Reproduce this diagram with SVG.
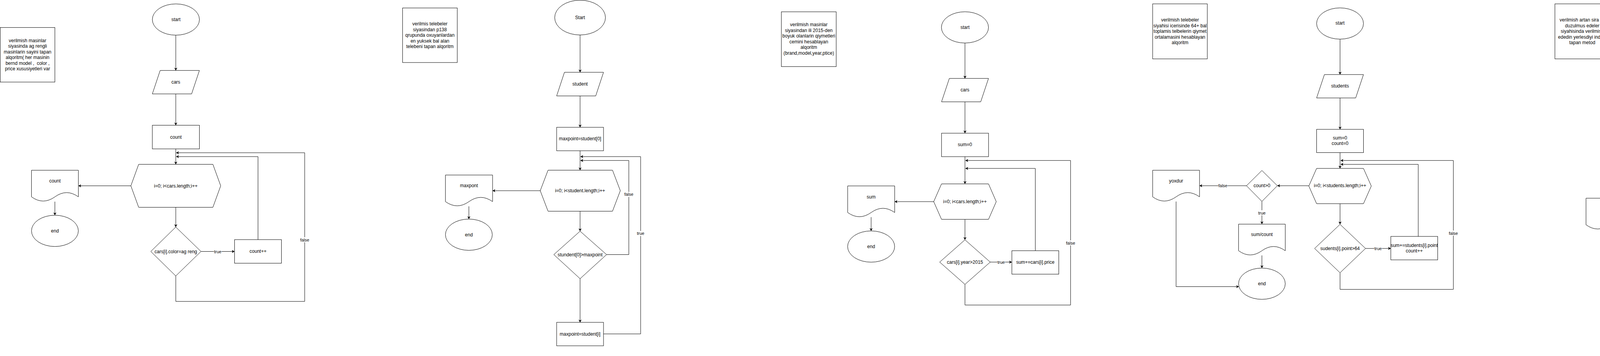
<svg xmlns="http://www.w3.org/2000/svg" width="5122" height="911" viewBox="0 0 5122 911">
<defs>
<marker id="a" markerWidth="8" markerHeight="8" refX="7" refY="4" orient="auto" markerUnits="userSpaceOnUse"><path d="M0,0 L7,4 L0,8 L2,4 Z" fill="#000"/></marker>
<style>
.s{fill:#fff;stroke:#000;stroke-width:1}
.t{font-family:"Liberation Sans",Arial,Helvetica,sans-serif;font-size:12px;fill:#000;text-anchor:middle}
.l{font-family:"Liberation Sans",Arial,Helvetica,sans-serif;font-size:11px;fill:#000;text-anchor:middle}
.e{fill:none;stroke:#000;stroke-width:1;marker-end:url(#a)}
.p{fill:none;stroke:#000;stroke-width:1}
.b{fill:#fff}
</style>
</defs>
<rect width="5122" height="911" fill="#fff"/>

<g id="connectors">
<!-- chart 1 -->
<path class="e" d="M450,90 V180.3"/>
<path class="e" d="M450,240.3 V320.5"/>
<path class="e" d="M450,381 V420.5"/>
<path class="e" d="M335,475.5 H200.7"/>
<path class="e" d="M140.5,516 V550.8"/>
<path class="e" d="M450,530.5 V581"/>
<path class="e" d="M514.5,643.5 H600.5"/>
<path class="e" d="M660.5,613.2 V400.8 H451"/>
<path class="e" d="M450,706.2 V771.3 H780 V390.9 H451"/>
<rect class="b" x="547.5" y="637" width="20" height="13"/><text class="l" x="557.5" y="647.5">true</text>
<rect class="b" x="768" y="607" width="24" height="13"/><text class="l" x="780" y="617.7">false</text>
<!-- chart 2 -->
<path class="e" d="M1485,89.5 V185"/>
<path class="e" d="M1485,245.5 V325.8"/>
<path class="e" d="M1485,385.8 V435.5"/>
<path class="e" d="M1383,488 H1261"/>
<path class="e" d="M1200.3,528 V560.6"/>
<path class="e" d="M1485,540.5 V591.6"/>
<path class="e" d="M1552.8,651.5 H1609.8 V410.7 H1486"/>
<path class="e" d="M1485,713.2 V824.9"/>
<path class="e" d="M1545,854.5 H1640 V400.8 H1486"/>
<rect class="b" x="1597.8" y="491" width="24" height="13"/><text class="l" x="1609.8" y="501.4">false</text>
<rect class="b" x="1630" y="591" width="20" height="13"/><text class="l" x="1640" y="601.4">true</text>
<!-- chart 3 -->
<path class="e" d="M2470.3,110 V200.7"/>
<path class="e" d="M2470.3,260.6 V340.9"/>
<path class="e" d="M2470.3,400.9 V470.6"/>
<path class="e" d="M2390.3,516 H2290.4"/>
<path class="e" d="M2230.1,555.6 V590.9"/>
<path class="e" d="M2470.3,561.3 V613.7"/>
<path class="e" d="M2535,670.7 H2590.4"/>
<path class="e" d="M2650.4,641.6 V431 H2471.5"/>
<path class="e" d="M2470.3,727.7 V780.6 H2740.7 V410.7 H2471.5"/>
<rect class="b" x="2553" y="664" width="20" height="13"/><text class="l" x="2563" y="674.7">true</text>
<rect class="b" x="2728.7" y="615" width="24" height="13"/><text class="l" x="2740.7" y="625.8">false</text>
<!-- chart 4 -->
<path class="e" d="M3430.5,100.2 V190.8"/>
<path class="e" d="M3430.5,250.7 V331"/>
<path class="e" d="M3430.5,390.5 V431"/>
<path class="e" d="M3350.6,475.3 H3270"/>
<path class="e" d="M3191,475.3 H3070.8"/>
<path class="e" d="M3230.5,515.4 V573.6"/>
<path class="e" d="M3230.5,653.6 V686"/>
<path class="e" d="M3010.8,515.7 V733.5 H3171.6"/>
<path class="e" d="M3430.5,521.2 V574.1"/>
<path class="e" d="M3495.7,635.8 H3560.5"/>
<path class="e" d="M3630.7,605 V420.6 H3432"/>
<path class="e" d="M3430.5,698 V740.5 H3720.6 V410.7 H3432"/>
<rect class="b" x="3118.6" y="469" width="24" height="13"/><text class="l" x="3130.6" y="479.3">false</text>
<rect class="b" x="3220.5" y="538" width="20" height="13"/><text class="l" x="3230.5" y="548.5">true</text>
<rect class="b" x="3518" y="629" width="20" height="13"/><text class="l" x="3528" y="639.8">true</text>
<rect class="b" x="3708.6" y="590" width="24" height="13"/><text class="l" x="3720.6" y="600.8">false</text>
<!-- chart 5 -->
<path class="e" d="M4330.2,130.5 V221"/>
<path class="e" d="M4330.2,281 V335"/>
<path class="e" d="M4330.2,435.3 V490.4"/>
<path class="e" d="M4264.7,546.8 H4180.3"/>
<path class="e" d="M4330.2,605 V702.7"/>
<path class="e" d="M4330.2,782.9 V815.1"/>
<path class="e" d="M4120.3,587.4 V855.1 H4270.2"/>
<!-- chart 6 -->
<path class="e" d="M4970.3,146.2 V235.6"/>
<path class="e" d="M4970.3,296 V350.7"/>
<path class="e" d="M4880.7,401.7 H4840.7"/>
<path class="e" d="M4970.3,451 V505.3"/>
<path class="e" d="M5034.5,562.7 H5110 V310.5 H4971.7"/>
<path class="e" d="M4970.3,620.1 V718.4"/>
<path class="e" d="M4970.3,798.6 V831.1"/>
<path class="e" d="M4780.5,441.5 V870.8 H4910.3"/>
<rect class="b" x="5098" y="397" width="24" height="13"/><text class="l" x="5110" y="407.7">false</text>
<rect class="b" x="4960.3" y="663" width="20" height="13"/><text class="l" x="4970.3" y="673.3">true</text>
</g>

<!-- ===== chart 1 ===== -->
<g id="note1"><rect class="s" x="0.5" y="70.4" width="140" height="139.6"/>
<text class="t" x="70.5" y="107.5">verilmish masinlar</text>
<text class="t" x="70.5" y="122">siyasinda ag rengli</text>
<text class="t" x="70.5" y="136.5">masinlarin sayini tapan</text>
<text class="t" x="70.5" y="151">alqoritm( her masinin</text>
<text class="t" x="70.5" y="165.5" xml:space="preserve">bernd model ,  color ,</text>
<text class="t" x="70.5" y="180">price xususiyetleri var</text></g>
<g id="start1"><ellipse class="s" cx="450.3" cy="50" rx="60.3" ry="40"/><text class="t" x="450.3" y="54">start</text></g>
<g id="input1"><polygon class="s" points="390,240.3 410,180.3 510.5,180.3 490.5,240.3"/><text class="t" x="450" y="214">cars</text></g>
<g id="init1"><rect class="s" x="390" y="320.5" width="120.5" height="60.5"/><text class="t" x="450.3" y="354.7">count</text></g>
<g id="loop1"><polygon class="s" points="355,420.5 545,420.5 565,475.5 545,530.5 355,530.5 335,475.5"/><text class="t" x="450" y="479.5">i=0; i&lt;cars.length;i++</text></g>
<g id="out1"><path class="s" d="M80.6,435.7 H200.7 V503.7 Q170.7,482.1 140.6,503.7 Q110.6,525.3 80.6,503.7 Z"/><text class="t" x="140.6" y="467">count</text></g>
<g id="end1"><ellipse class="s" cx="140.6" cy="590.8" rx="60" ry="40"/><text class="t" x="140.6" y="594.8">end</text></g>
<g id="cond1"><polygon class="s" points="450,581 514.5,643.5 450,706.2 386,643.5"/><text class="t" x="450" y="647.6">cars[i].color=ag reng</text></g>
<g id="inc1"><rect class="s" x="600.5" y="613.2" width="120" height="60.4"/><text class="t" x="660.5" y="647.4">count++</text></g>

<!-- ===== chart 2 ===== -->
<g id="note2"><rect class="s" x="1030.6" y="20.4" width="140" height="139.6"/>
<text class="t" x="1100.6" y="65.1">verilmis telebeler</text>
<text class="t" x="1100.6" y="79.6">siyasindan p138</text>
<text class="t" x="1100.6" y="94.2">qrupunda oxuyanlardan</text>
<text class="t" x="1100.6" y="108.7">en yuksek bal alan</text>
<text class="t" x="1100.6" y="123.2">telebeni tapan alqoritm</text></g>
<g id="start2"><ellipse class="s" cx="1485" cy="45" rx="65" ry="44.5"/><text class="t" x="1485" y="48.8">Start</text></g>
<g id="input2"><polygon class="s" points="1425,245.5 1445,185 1545,185 1525,245.5"/><text class="t" x="1485" y="218.6">student</text></g>
<g id="init2"><rect class="s" x="1425" y="325.8" width="120" height="60"/><text class="t" x="1485" y="358.8">maxpoint=student[0]</text></g>
<g id="loop2"><polygon class="s" points="1403,435.5 1568,435.5 1588,488 1568,540.5 1403,540.5 1383,488"/><text class="t" x="1485" y="492">i=0; i&lt;student.length;i++</text></g>
<g id="out2"><path class="s" d="M1140.3,447.9 H1261 V515.9 Q1230.8,494.3 1200.6,515.9 Q1170.5,537.5 1140.3,515.9 Z"/><text class="t" x="1200.6" y="478.7">maxpont</text></g>
<g id="end2"><ellipse class="s" cx="1200.3" cy="600.6" rx="60" ry="40"/><text class="t" x="1200.3" y="604.6">end</text></g>
<g id="cond2"><polygon class="s" points="1485,591.6 1552.8,651.5 1485,713.2 1417.8,651.5"/><text class="t" x="1485" y="655.5">stundent[0]&gt;maxpoint</text></g>
<g id="set2"><rect class="s" x="1425" y="824.9" width="120" height="60"/><text class="t" x="1485" y="858.5">maxpoint=student[i]</text></g>

<!-- ===== chart 3 ===== -->
<g id="note3"><rect class="s" x="2000.3" y="30.2" width="140.4" height="140.2"/>
<text class="t" x="2070.5" y="67.4">verilmish masinlar</text>
<text class="t" x="2070.5" y="81.9">siyasindan ili 2015-den</text>
<text class="t" x="2070.5" y="96.4">boyuk olanlarin qiymetleri</text>
<text class="t" x="2070.5" y="110.9">cemini hesablayan</text>
<text class="t" x="2070.5" y="125.4">alqoritm</text>
<text class="t" x="2070.5" y="139.9">(brand,model,year,ptice)</text></g>
<g id="start3"><ellipse class="s" cx="2470.3" cy="70.1" rx="60.3" ry="40"/><text class="t" x="2470.3" y="73.8">start</text></g>
<g id="input3"><polygon class="s" points="2410.3,260.6 2430.3,200.7 2530.6,200.7 2510.6,260.6"/><text class="t" x="2470.3" y="234.4">cars</text></g>
<g id="init3"><rect class="s" x="2410.3" y="340.9" width="120.4" height="60"/><text class="t" x="2470.3" y="374.3">sum=0</text></g>
<g id="loop3"><polygon class="s" points="2410.3,470.6 2530.6,470.6 2550.4,516 2530.6,561.3 2410.3,561.3 2390.3,516"/><text class="t" x="2470.3" y="520">i=0; i&lt;cars.length;i++</text></g>
<g id="out3"><path class="s" d="M2170,475.8 H2290.4 V543.8 Q2260.3,522.2 2230.2,543.8 Q2200.1,565.4 2170,543.8 Z"/><text class="t" x="2230.2" y="507.8">sum</text></g>
<g id="end3"><ellipse class="s" cx="2230.1" cy="630.9" rx="60.2" ry="40"/><text class="t" x="2230.1" y="634.9">end</text></g>
<g id="cond3"><polygon class="s" points="2470.3,613.7 2535,670.7 2470.3,727.7 2405.6,670.7"/><text class="t" x="2470.3" y="674.7">cars[i].year&gt;2015</text></g>
<g id="add3"><rect class="s" x="2590.4" y="641.6" width="120.1" height="60"/><text class="t" x="2650.4" y="674.7">sum+=cars[i].price</text></g>

<!-- ===== chart 4 ===== -->
<g id="note4"><rect class="s" x="2950.8" y="9.9" width="139.9" height="140.8"/>
<text class="t" x="3020.8" y="55.2">verilmish telebeler</text>
<text class="t" x="3020.8" y="69.7">siyahisi icerisinde 64+ bal</text>
<text class="t" x="3020.8" y="84.2">toplamis telbelerin qiymet</text>
<text class="t" x="3020.8" y="98.7">ortalamasini hesablayan</text>
<text class="t" x="3020.8" y="113.2">alqoritm</text></g>
<g id="start4"><ellipse class="s" cx="3430.5" cy="60.2" rx="60" ry="40"/><text class="t" x="3430.5" y="63.3">start</text></g>
<g id="input4"><polygon class="s" points="3370.5,250.7 3390.5,190.8 3490.5,190.8 3470.5,250.7"/><text class="t" x="3430.5" y="223.9">students</text></g>
<g id="init4"><rect class="s" x="3370.5" y="331" width="120" height="59.5"/><text class="t" x="3430.5" y="356.8">sum=0</text><text class="t" x="3430.5" y="371.4">count=0</text></g>
<g id="loop4"><polygon class="s" points="3370.5,431 3490.5,431 3510.5,476.1 3490.5,521.2 3370.5,521.2 3350.6,476.1"/><text class="t" x="3430.5" y="479.3">i=0; i&lt;students.length;i++</text></g>
<g id="chk4"><polygon class="s" points="3230.5,436.3 3270,475.3 3230.5,515.4 3191,475.3"/><text class="t" x="3230.5" y="479.3">count&gt;0</text></g>
<g id="none4"><path class="s" d="M2950.8,435.7 H3070.8 V503.7 Q3040.8,482.1 3010.8,503.7 Q2980.8,525.3 2950.8,503.7 Z"/><text class="t" x="3010.8" y="467">yoxdur</text></g>
<g id="avg4"><path class="s" d="M3170.7,573.6 H3290.3 V641.6 Q3260.4,620 3230.5,641.6 Q3200.6,663.2 3170.7,641.6 Z"/><text class="t" x="3230.5" y="604.3">sum/count</text></g>
<g id="end4"><ellipse class="s" cx="3230.5" cy="726" rx="59.8" ry="40"/><text class="t" x="3230.5" y="730">end</text></g>
<g id="cond4"><polygon class="s" points="3430.5,574.1 3495.7,635.8 3430.5,698 3365.4,635.8"/><text class="t" x="3430.5" y="639.8">sudents[i].point&gt;64</text></g>
<g id="add4"><rect class="s" x="3560.5" y="605" width="120" height="60"/><text class="t" x="3620.5" y="631.7">sum+=students[i].point</text><text class="t" x="3620.5" y="646.2">count++</text></g>

<!-- ===== chart 5 ===== -->
<g id="note5"><rect class="s" x="3980.6" y="9.9" width="140" height="140.8"/>
<text class="t" x="4050.6" y="55.2">verilmish artan sira ile</text>
<text class="t" x="4050.6" y="69.7">duzulmus edeler</text>
<text class="t" x="4050.6" y="84.2">siyahisinda verilmish</text>
<text class="t" x="4050.6" y="98.7">ededin yerlesdiyi indexi</text>
<text class="t" x="4050.6" y="113.2">tapan metod</text></g>
<g id="start5"><ellipse class="s" cx="4330.2" cy="90.5" rx="60" ry="40"/><text class="t" x="4330.2" y="93.6">star</text></g>
<g id="input5"><polygon class="s" points="4270.2,281 4290.2,221 4390.2,221 4370.2,281"/><text class="t" x="4330.2" y="246.6">numbers</text><text class="t" x="4330.2" y="261.7">N</text></g>
<g id="loop5"><polygon class="s" points="4260.3,335 4400.4,335 4420.7,385.2 4400.4,435.3 4260.3,435.3 4240.3,385.2"/><text class="t" x="4332" y="389">i=0; i&lt;numbers.length;i++</text></g>
<g id="cond5"><polygon class="s" points="4330.2,490.4 4395.4,546.8 4330.2,605 4264.7,546.8"/><text class="t" x="4330.2" y="550.8">numbers[i]==N</text></g>
<g id="none5"><path class="s" d="M4060.2,507.2 H4180.3 V575.2 Q4150.3,553.6 4120.3,575.2 Q4090.2,596.8 4060.2,575.2 Z"/><text class="t" x="4120.3" y="538">yoxdur</text></g>
<g id="yes5"><path class="s" d="M4270.2,702.7 H4390.3 V770.7 Q4360.3,749.1 4330.2,770.7 Q4300.2,792.3 4270.2,770.7 Z"/><text class="t" x="4330.2" y="733.5">var</text></g>
<g id="end5"><ellipse class="s" cx="4330.2" cy="855.1" rx="60" ry="40"/><text class="t" x="4330.2" y="858.5">end</text></g>

<!-- ===== chart 6 ===== -->
<g id="note6"><rect class="s" x="4590.5" y="9.9" width="170.1" height="130.3"/>
<text class="t" x="4675.5" y="71.5">verilmish siyahida cut eded</text>
<text class="t" x="4675.5" y="86.6">varsa var yoxdursa yox</text></g>
<g id="start6"><ellipse class="s" cx="4970.3" cy="106.2" rx="60" ry="40"/><text class="t" x="4970.3" y="109.3">star</text></g>
<g id="input6"><polygon class="s" points="4910.3,296 4930.3,235.6 5030.4,235.6 5010.4,296"/><text class="t" x="4970.3" y="269.8">siyahi</text></g>
<g id="loop6"><polygon class="s" points="4900.3,350.7 5040.9,350.7 5060.7,400.9 5040.9,451 4900.3,451 4880.7,400.9"/><text class="t" x="4970.7" y="405.7">i=0; i&lt;siyahi.length;i++</text></g>
<g id="none6"><path class="s" d="M4720.5,361.3 H4840.7 V429.3 Q4810.6,407.7 4780.6,429.3 Q4750.5,450.9 4720.5,429.3 Z"/><text class="t" x="4780.6" y="392">yoxdur</text></g>
<g id="cond6"><polygon class="s" points="4970.3,505.3 5034.5,562.7 4970.3,620.1 4905.7,562.7"/><text class="t" x="4970.3" y="566.7">siyahi[i]%2==0</text></g>
<g id="yes6"><path class="s" d="M4910.3,718.4 H5030.4 V786.4 Q5000.4,764.8 4970.3,786.4 Q4940.3,808 4910.3,786.4 Z"/><text class="t" x="4970.3" y="749.2">var</text></g>
<g id="end6"><ellipse class="s" cx="4970.3" cy="871.1" rx="60" ry="40"/><text class="t" x="4970.3" y="874.8">end</text></g>
</svg>
